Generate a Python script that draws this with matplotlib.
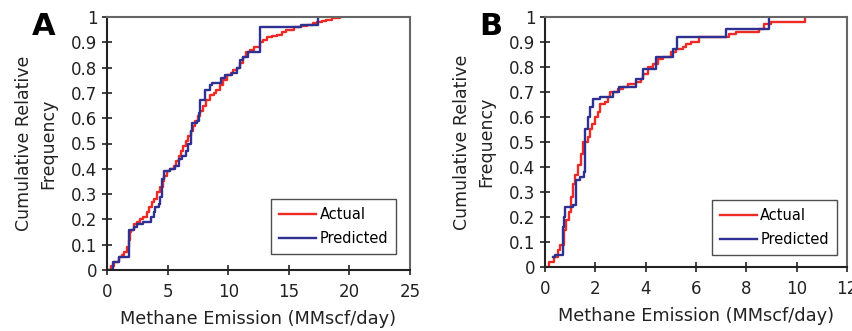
import matplotlib
matplotlib.use("Agg")
import matplotlib.pyplot as plt

# panel A: step breakpoints (emission, cumulative relative frequency)
a_actual_x = [0, 0.3, 0.6, 1.0, 1.2, 1.4, 1.65, 1.8, 1.9, 2.0, 2.2, 2.5, 2.75, 3.0, 3.3, 3.5,
              3.7, 3.85, 4.1, 4.4, 4.6, 4.7, 4.95, 5.2, 5.5, 5.7, 5.9, 6.1, 6.3, 6.5, 6.7, 6.9,
              7.1, 7.3, 7.5, 7.7, 7.9, 8.2, 8.5, 8.8, 9.0, 9.3, 9.6, 9.9, 10.2, 10.4, 10.7,
              11.0, 11.2, 11.5, 11.8, 12.1, 12.6, 12.9, 13.2, 13.6, 14.0, 14.4, 14.8, 15.4,
              16.0, 16.5, 17.0, 17.3, 17.7, 18.1, 18.6, 19.2]
a_actual_y = [0, 0.015, 0.03, 0.05, 0.06, 0.07, 0.09, 0.12, 0.15, 0.16, 0.18, 0.19, 0.20, 0.21,
              0.23, 0.25, 0.27, 0.28, 0.31, 0.33, 0.35, 0.37, 0.39, 0.40, 0.41, 0.43, 0.45,
              0.47, 0.49, 0.51, 0.53, 0.55, 0.57, 0.59, 0.61, 0.63, 0.65, 0.67, 0.69, 0.70,
              0.71, 0.73, 0.75, 0.77, 0.78, 0.79, 0.80, 0.82, 0.84, 0.86, 0.87, 0.88, 0.90,
              0.91, 0.92, 0.925, 0.93, 0.94, 0.95, 0.96, 0.965, 0.97, 0.975, 0.98, 0.985,
              0.99, 0.995, 1.0]
a_pred_x = [0.1, 0.5, 1.0, 1.8, 2.2, 2.5, 3.0, 3.6, 3.9, 4.0, 4.3, 4.4, 4.5, 4.7, 5.2, 5.6,
            5.9, 6.2, 6.5, 6.7, 6.9, 7.0, 7.4, 7.6, 7.7, 8.1, 8.5, 8.7, 9.4, 9.7, 10.3, 10.7,
            11.0, 11.2, 11.6, 12.6, 16.0, 17.4]
a_pred_y = [0, 0.03, 0.05, 0.16, 0.17, 0.18, 0.19, 0.21, 0.23, 0.25, 0.26, 0.29, 0.36, 0.39,
            0.40, 0.41, 0.44, 0.45, 0.47, 0.50, 0.55, 0.58, 0.59, 0.62, 0.67, 0.71, 0.73, 0.74,
            0.76, 0.77, 0.78, 0.80, 0.83, 0.84, 0.86, 0.96, 0.97, 1.0]

# panel B
b_actual_x = [0.05, 0.15, 0.35, 0.5, 0.6, 0.75, 0.85, 0.95, 1.05, 1.1, 1.2, 1.3, 1.45, 1.5,
              1.7, 1.8, 1.85, 2.0, 2.1, 2.2, 2.4, 2.5, 2.6, 2.9, 3.1, 3.3, 3.6, 3.8, 3.9,
              4.1, 4.3, 4.5, 4.7, 5.0, 5.2, 5.5, 5.6, 5.8, 6.1, 7.3, 7.6, 8.5, 8.7, 9.0, 10.35]
b_actual_y = [0, 0.02, 0.04, 0.07, 0.09, 0.15, 0.19, 0.22, 0.28, 0.33, 0.37, 0.41, 0.45, 0.50,
              0.52, 0.55, 0.57, 0.60, 0.62, 0.65, 0.66, 0.68, 0.70, 0.71, 0.72, 0.73, 0.74,
              0.75, 0.77, 0.80, 0.81, 0.83, 0.84, 0.86, 0.87, 0.88, 0.89, 0.90, 0.92, 0.93,
              0.94, 0.95, 0.97, 0.98, 0.995]
b_pred_x = [0.3, 0.4, 0.72, 0.75, 0.8, 1.1, 1.25, 1.4, 1.55, 1.6, 1.7, 1.8, 1.9, 2.2, 2.7,
            2.95, 3.6, 3.9, 4.4, 5.1, 5.25, 7.2, 8.9]
b_pred_y = [0.04, 0.05, 0.16, 0.20, 0.24, 0.25, 0.35, 0.36, 0.38, 0.55, 0.60, 0.64, 0.67,
            0.68, 0.70, 0.72, 0.75, 0.79, 0.84, 0.87, 0.92, 0.95, 1.0]

red = "#ee2a24"
blue = "#2e3192"

fig = plt.figure(figsize=(8.53, 3.31), dpi=100)
axA = fig.add_axes([107/853, 61/331, 303/853, 253/331])
axB = fig.add_axes([545/853, 64/331, 302/853, 250/331])

def style(ax, xmax, xstep):
    ax.set_xlim(0, xmax)
    ax.set_ylim(0, 1)
    ax.set_xticks(range(0, xmax + 1, xstep))
    ax.set_yticks([i/10 for i in range(11)])
    ax.set_yticklabels(["0", "0.1", "0.2", "0.3", "0.4", "0.5", "0.6", "0.7", "0.8", "0.9", "1"])
    ax.tick_params(direction="inout", length=7, width=1.2, labelsize=12, colors="#222")
    ax.tick_params(axis="x", pad=6)
    for s in ["left", "bottom"]:
        ax.spines[s].set_color("#222")
        ax.spines[s].set_linewidth(1.5)
    for s in ["top", "right"]:
        ax.spines[s].set_color("#666")
        ax.spines[s].set_linewidth(1.5)
    ax.set_xlabel("Methane Emission (MMscf/day)", fontsize=12.8, color="#222", labelpad=6)
    ax.set_ylabel("Cumulative Relative\nFrequency", fontsize=12.5, color="#222",
                  labelpad=10, linespacing=1.45)

for ax, ax_x, ax_y, pr_x, pr_y, xmax, xstep, letter, anchor, lx in [
        (axA, a_actual_x, a_actual_y, a_pred_x, a_pred_y, 25, 5, "A", (0.954, 0.063), -0.17),
        (axB, b_actual_x, b_actual_y, b_pred_x, b_pred_y, 12, 2, "B", (0.967, 0.048), -0.14)]:
    ax.step(ax_x, ax_y, where="post", color=red, lw=1.7, label="Actual")
    ax.step(pr_x, pr_y, where="post", color=blue, lw=1.7, label="Predicted")
    style(ax, xmax, xstep)
    leg = ax.legend(loc="lower right", bbox_to_anchor=anchor, borderaxespad=0,
                    fancybox=False, edgecolor="#222", fontsize=10.5, handlelength=2.6,
                    handletextpad=0.2, labelspacing=0.6, borderpad=0.55)
    leg.get_frame().set_linewidth(1.0)
    ax.text(lx, 1.02, letter, transform=ax.transAxes, fontsize=22, fontweight="bold",
            va="top", ha="right")

fig.savefig("out.png", dpi=100)
